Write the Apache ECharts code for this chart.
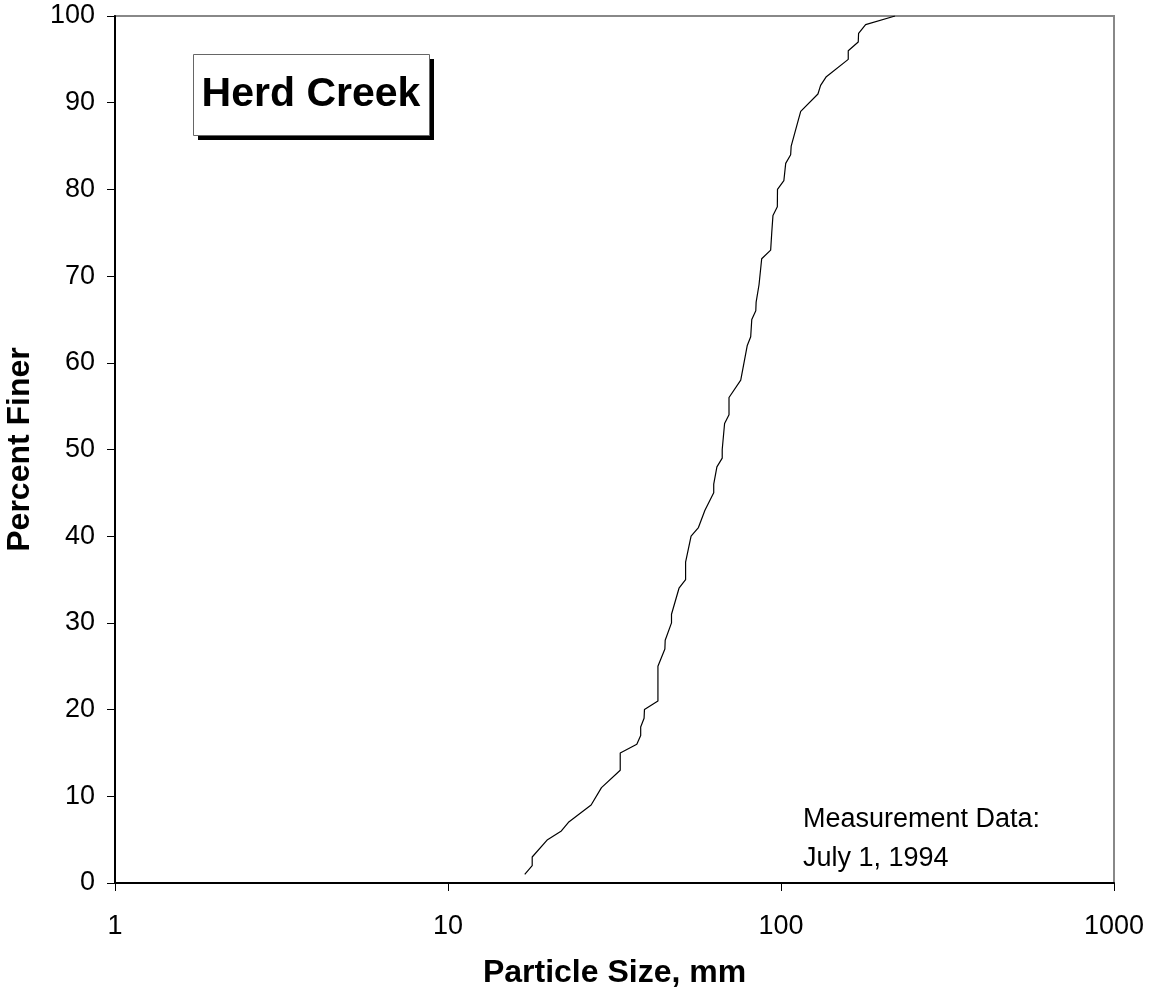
<!DOCTYPE html>
<html>
<head>
<meta charset="utf-8">
<script src="https://cdn.jsdelivr.net/npm/echarts@6/dist/echarts.min.js"></script>
<style>html,body{margin:0;padding:0;background:#fff}#c{width:1152px;height:1005px}</style>
</head>
<body>
<div id="c"></div>
<script>
// Particle size (mm)
var particleSize = [17.0, 17.9, 17.9, 19.9, 21.9, 23.0, 26.9, 28.9, 32.9, 32.9, 36.9, 37.9, 37.9, 38.8, 38.9, 42.7, 42.7, 44.8, 44.9, 46.9, 46.9, 49.4, 51.7, 51.7, 53.7, 56.5, 59.1, 62.8, 62.8, 64.2, 66.6, 66.6, 67.7, 69.8, 69.8, 75.7, 79.2, 81.1, 81.7, 84.0, 84.2, 85.9, 87.5, 93.1, 93.8, 94.6, 97.5, 97.6, 102, 103.3, 106.9, 107.3, 112.7, 114.6, 129.1, 131.5, 136.8, 159.2, 159.2, 170.6, 171, 179.5, 220];
// Percent finer at each point
var percentFiner = [1, 2, 3, 5, 6, 7, 9, 11, 13, 15, 16, 17, 18, 19, 20, 21, 25, 27, 28, 30, 31, 34, 35, 37, 40, 41, 43, 45, 46, 48, 49, 50, 53, 54, 56, 58, 62, 63, 65, 66, 67, 69, 72, 73, 75, 77, 78, 80, 81, 83, 84, 85, 88, 89, 91, 92, 93, 95, 96, 97, 98, 99, 100];
var xTicks = [1, 10, 100, 1000];
var yTicks = [0, 10, 20, 30, 40, 50, 60, 70, 80, 90, 100];
var titleText = 'Herd Creek';
var noteText = 'Measurement Data:\nJuly 1, 1994';

var data = particleSize.map(function (s, i) { return [s, percentFiner[i]]; });
var font = '"Liberation Sans", Arial, sans-serif';
var chart = echarts.init(document.getElementById('c'));
chart.setOption({
  animation: false,
  backgroundColor: '#fff',
  grid: { left: 115, right: 38, top: 16, bottom: 122, containLabel: false, outerBoundsMode: 'none', show: true, borderColor: '#888', borderWidth: 2, backgroundColor: 'transparent' },
  xAxis: {
    type: 'log', logBase: 10, min: xTicks[0], max: xTicks[xTicks.length - 1],
    name: 'Particle Size, mm', nameLocation: 'middle', nameGap: 74,
    nameTextStyle: { fontFamily: font, fontWeight: 'bold', fontSize: 32, color: '#000' },
    axisLine: { lineStyle: { color: '#000', width: 2 } },
    axisTick: { show: true, length: 8, lineStyle: { color: '#000', width: 1 } },
    minorTick: { show: false },
    splitLine: { show: false },
    axisLabel: { margin: 30, fontFamily: font, fontSize: 27, color: '#000', formatter: function (v) { return String(Math.round(v)); } }
  },
  yAxis: {
    type: 'value', min: yTicks[0], max: yTicks[yTicks.length - 1], interval: 10,
    name: 'Percent Finer', nameLocation: 'middle', nameGap: 79, nameRotate: 90,
    nameTextStyle: { fontFamily: font, fontWeight: 'bold', fontSize: 32, color: '#000' },
    axisLine: { show: true, lineStyle: { color: '#000', width: 2 } },
    axisTick: { show: true, length: 8, lineStyle: { color: '#000', width: 1 } },
    splitLine: { show: false },
    axisLabel: { margin: 20, fontFamily: font, fontSize: 27, color: '#000' }
  },
  graphic: [
    { type: 'rect', left: 198, top: 59, z: 100, shape: { width: 236, height: 81 }, style: { fill: '#000' } },
    { type: 'rect', left: 193, top: 54, z: 101, shape: { width: 236, height: 81 }, style: { fill: '#fff', stroke: '#666', lineWidth: 1 } },
    { type: 'text', x: 311, y: 95, z: 102, style: { text: titleText, fontFamily: font, fontWeight: 'bold', fontSize: 41, fill: '#000', align: 'center', verticalAlign: 'middle' } },
    { type: 'text', left: 803, top: 800, style: { text: noteText, fontFamily: font, fontSize: 27, lineHeight: 39, fill: '#000' } }
  ],
  series: [{
    type: 'line', data: data, showSymbol: false, symbol: 'none',
    lineStyle: { color: '#000', width: 1.2 }
  }]
});
</script>
</body>
</html>
